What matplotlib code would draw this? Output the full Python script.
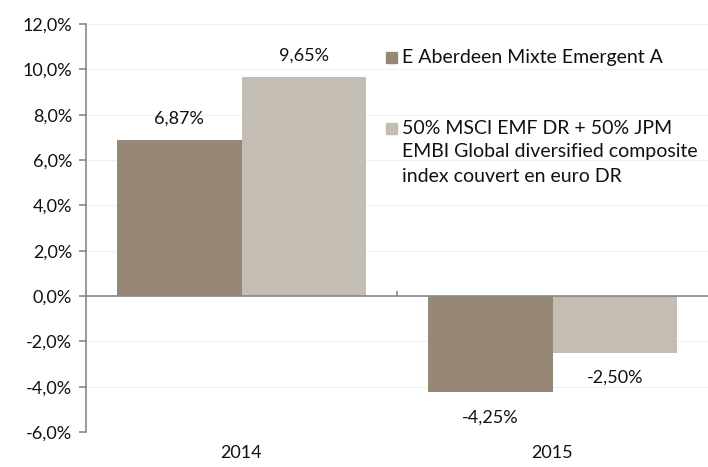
import numpy as np
import matplotlib.pyplot as plt
from matplotlib.patches import Rectangle

# data
years = ["2014", "2015"]
fund = [6.87, -4.25]
bench = [9.65, -2.50]
fund_name = "E Aberdeen Mixte Emergent A"
bench_lines = ["50% MSCI EMF DR + 50% JPM",
               "EMBI Global diversified composite",
               "index couvert en euro DR"]

c_fund = "#968776"
c_bench = "#C4BDB3"
grey = "#878787"
txt = "#111111"
fs = 13

plt.rcParams['font.family'] = ['Lato', 'DejaVu Sans']

fig = plt.figure(figsize=(7.08, 4.67), dpi=100)
ax = fig.add_axes([86/708, 1 - 432/467, 1 - 86/708, 408/467])

x = np.arange(len(years))
w = 0.4
ax.bar(x - w/2, fund, w, color=c_fund, zorder=2)
ax.bar(x + w/2, bench, w, color=c_bench, zorder=2)

# value labels
for i in range(len(years)):
    for xx, v in [(x[i] - w/2, fund[i]), (x[i] + w/2, bench[i])]:
        lab = f"{v:.2f}%".replace(".", ",")
        off = 0.95 if v > 0 else -1.1
        ax.text(xx, v + off, lab, ha='center', va='center', fontsize=fs, color=txt)

ax.set_xlim(-0.5, 1.5)
ax.set_ylim(-6, 12)
yt = np.arange(-6, 13, 2)
ax.set_yticks(yt)
ax.set_yticklabels([f"{t:.1f}%".replace(".", ",") for t in yt], fontsize=fs, color=txt)
ax.set_xticks(x)
ax.set_xticklabels(years, fontsize=fs, color=txt)
ax.tick_params(axis='x', length=0, pad=9)
ax.tick_params(axis='y', length=5, color=grey, width=1.2, pad=5)

for s in ['top', 'right', 'bottom']:
    ax.spines[s].set_visible(False)
ax.spines['left'].set_color(grey)
ax.spines['left'].set_linewidth(1.2)

ax.grid(axis='y', color='#F0F0F0', linewidth=0.8, zorder=0)
ax.axhline(0, color=grey, linewidth=1.2, zorder=3)
ax.vlines([-0.5, 0.5], 0, 0.2, color=grey, linewidth=1.2, zorder=3)

# legend, drawn by hand
fig.patches.append(Rectangle((386/708, 1 - 63/467), 11/708, 11/467, color=c_fund,
                             transform=fig.transFigure, figure=fig))
fig.text(402/708, 1 - 57/467, fund_name, fontsize=14, va='center', color=txt)
fig.patches.append(Rectangle((386/708, 1 - 134/467), 11/708, 11/467, color=c_bench,
                             transform=fig.transFigure, figure=fig))
for k, line in enumerate(bench_lines):
    fig.text(402/708, 1 - (128 + 24*k)/467, line, fontsize=14, va='center', color=txt)

fig.savefig("out.png", dpi=100)
